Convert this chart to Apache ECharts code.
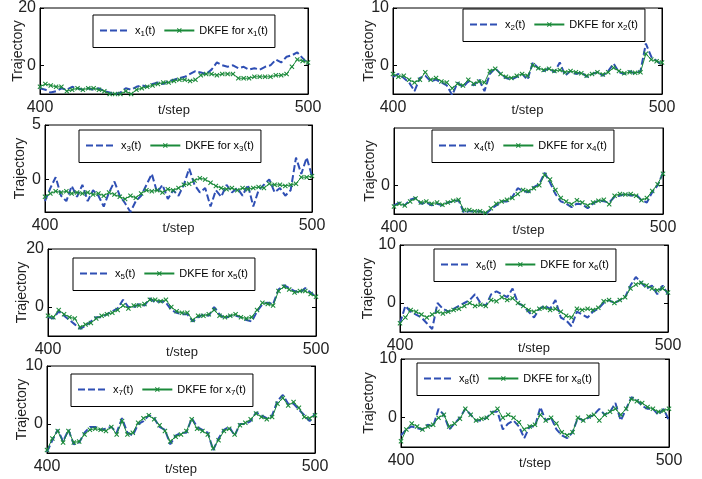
<!DOCTYPE html>
<html>
<head>
<meta charset="utf-8">
<script src="https://cdn.jsdelivr.net/npm/echarts@6/dist/echarts.min.js"></script>
<style>
html, body { margin: 0; padding: 0; background: #fff; }
#chart { width: 702px; height: 479px; }
</style>
</head>
<body>
<div id="chart"></div>
<script>
// 时间步 400..500，每 2 步读一个点
const steps = [];
for (let s = 400; s <= 500; s += 2) steps.push(s);

const xTicks = [400, 500];

// 真实状态 x_i(t) 与 DKFE 估计
const x1 = [-8, -8.5, -9.5, -9, -8, -8.5, -7.5, -8, -8.5, -8, -8.5, -8, -9, -9.5, -10, -9.5, -8, -8.5, -7.5, -7, -7.5, -6.5, -6, -6.5, -5.5, -5, -4.5, -4, -3, -2, -2.5, -3, -1.5, 1, 0, -0.5, 0, -1, -0.5, -1.5, -1, -1.5, -0.5, 0, 2, 1, 3, 3.5, 4.5, 2.5, 0.5];
const dkfe1 = [-7.5, -6.5, -7, -7.5, -7.5, -9, -8.5, -8, -8.5, -8, -8, -8.5, -9, -10, -10, -10, -9, -10, -8.5, -8, -7.5, -7, -6.5, -6, -6, -5.5, -5, -5, -5.5, -5, -3.5, -3, -3, -3.5, -3, -3, -3, -4.5, -4.5, -4.5, -4, -4, -4, -4, -3.5, -3.5, -3, -0.5, 2, 1.5, 1];

const x2 = [-2, -1.5, -2.2, -3, -4.5, -2.2, -1.8, -2.8, -2.5, -3, -3.5, -5.2, -3, -3.8, -2.8, -3.5, -2.5, -4.5, -1.5, -0.5, -1.5, -2.2, -2.5, -2, -1.5, -2.5, 0.5, -0.5, -1, -0.5, -1.2, 0.5, -1.8, -1, -1.5, -1.2, -2, -1.5, -1.2, -1.8, -1, 0.3, -1.2, -1.5, -1, -1.5, -1, 3.8, 1.5, 0.8, 0];
const dkfe2 = [-1.5, -2, -1.8, -2.5, -3, -2.5, -1.2, -2.5, -2.2, -2.8, -3, -4, -3.2, -3.5, -2.5, -3.2, -2.8, -3, -1, -0.6, -1.5, -2, -2.2, -1.8, -1.5, -1.8, 0, -0.5, -0.8, -0.6, -1, -0.8, -1.2, -1, -1.2, -1.4, -1.8, -1.5, -1.2, -1.6, -1.2, -0.4, -1, -1.4, -1.2, -1.3, -1.2, 2, 1, 0.7, 0.5];

const x3 = [-2, -0.8, 0.2, -1.5, -2, -0.6, -1.6, -0.5, -2, -1, -1.5, -2.5, -1.2, -0.2, -1.5, -2.2, -3, -2, -1.5, -0.5, 0.5, -1.2, -0.5, -1.8, -1, -1.5, -0.5, 1, -0.5, -1.2, -0.8, -2.5, -1, -1.6, -0.5, -1.2, -0.8, -1.5, -0.5, -2.5, -1, -0.5, 0, -1.2, -0.8, -1.5, -1, 2, 0.5, 2, 0.3];
const dkfe3 = [-1.6, -1.3, -1.1, -1.2, -1.1, -1.3, -1.2, -1.3, -1.2, -1.4, -1.3, -1.5, -1.2, -1.4, -1.6, -1.8, -1.5, -1.7, -1.3, -1, -1.1, -1, -1.2, -0.9, -1, -0.8, -0.5, -0.4, -0.1, 0.1, 0, -0.3, -0.6, -0.8, -0.9, -0.8, -1, -0.8, -0.9, -0.8, -0.7, -0.8, -0.4, -0.5, -0.5, -0.6, -0.5, -0.4, 0.2, 0.2, 0.3];

const x4 = [-3.5, -3, -3.5, -2.5, -2.2, -3.2, -3, -3.5, -3.2, -3.5, -3, -2.8, -2.6, -4.8, -4.5, -4.6, -4.5, -5, -4.2, -3.5, -2.8, -2.8, -2, -0.5, -1, -1.2, -0.3, 0.2, 2.2, 0.5, -1.5, -2.8, -3.2, -3.8, -3.2, -3.3, -4, -3.2, -2.6, -2.8, -3, -2, -1.8, -1.5, -1.8, -1.6, -2.6, -3, -1.2, 0, 2.2];
const dkfe4 = [-3.7, -3.2, -3.5, -2.8, -2.3, -3, -2.8, -3.2, -3, -3.4, -3, -2.7, -2.5, -4.3, -4.3, -4.5, -4.5, -4.8, -4, -3.2, -2.8, -2.5, -2.2, -1.5, -0.8, -1, -0.5, 0, 1.8, 1, -0.8, -2.2, -2.8, -3.3, -2.6, -3, -3.5, -3, -2.7, -2.5, -3.3, -1.8, -1.5, -1.6, -1.5, -1.8, -2.6, -2.2, -1, 0.2, 2];

const x5 = [-3.5, -4, -1.5, -3, -4.5, -6, -7.5, -6.5, -5, -3.5, -3.5, -2.5, -1.5, -0.5, 2.5, 0, 0, 1, 0.5, 3, 1.5, 2, 1.5, -1, -2, -2.5, -2.5, -5, -3.5, -2.5, -3, 0, -2.5, -4, -3, -3, -3.5, -4.5, -5, -1.5, 1, 1.5, 1, 6, 7.5, 6.5, 5.5, 5, 6.5, 5, 3.5];
const dkfe5 = [-3, -3.5, -1, -2.5, -3.5, -4, -7, -6, -5.5, -4, -3, -2.5, -2, -1, 0.5, -0.5, 0.5, 0.5, 1, 2.5, 2.5, 2, 2.5, 0, -1.5, -2, -2, -4.5, -3, -3, -2.5, -1, -3, -3.5, -3, -2.5, -3.5, -4, -3.5, -1, 1.5, 1, 0.5, 5.5, 7, 6, 5, 5.5, 5.5, 4.5, 3.5];

const x6 = [-3.5, -0.5, -1.5, -2, -2.5, -3.5, -4.5, 0, -1, -1.5, -1, -0.5, 0, 0.5, 1.5, 0, -0.5, 1.5, 2, 1.5, 1, 2.5, 0, -0.5, -1.5, -2.5, -1, -0.5, -1, 0.5, -2.5, -3, -4, -1.5, -2, -2.5, -1.5, -1, 0, 0.5, 0, 0.5, 1, 3, 4.5, 3.5, 2.5, 3, 1.5, 3, 1.5];
const dkfe6 = [-3.5, -2.5, -1.2, -1.5, -2, -2.5, -2, -1.5, -1.8, -1.5, -1.2, -1, -0.5, 0, -0.5, -0.3, -0.5, 0.5, 0.3, 1, 0.5, 0.8, 0, -0.5, -1.2, -1.5, -1, -0.8, -1.2, -1, -1.5, -2.2, -2.5, -1, -1.2, -1, -1.2, -0.8, 0.3, 0.5, 0, 0.5, 1, 2.5, 3.2, 3.5, 3, 2.5, 2.2, 2.5, 1.8];

const x7 = [-4.8, -2.8, -1, -3, -1, -3.5, -3.2, -1.5, -0.5, -0.5, -1, -0.8, -0.5, -1.5, 1, -1.5, -2, 0, 0.5, 1.5, 1, -0.5, -1, -3.5, -2, -1.5, -1.5, 1, -0.5, -1, -1.5, -4.5, -2.5, -1, -0.5, -2, 0, 0, 0.5, 2, 1.5, 1, 1.5, 4, 5, 3.5, 3.5, 2.5, 1.5, 0.5, 1.8];
const dkfe7 = [-4.5, -2.5, -1.2, -3.2, -1.2, -3.2, -3, -1.8, -1, -0.8, -1, -1.2, -0.5, -1.8, 0.5, -1.8, -1.5, 0.2, 1, 1.5, 0.8, -0.2, -1.2, -3, -2.2, -1.8, -1.2, 0.8, -0.8, -1.2, -1.8, -4.2, -2.8, -1.2, -0.8, -1.8, -0.2, 0.2, 0.8, 1.8, 1.2, 0.8, 1.2, 3.5, 4.5, 3.2, 3.8, 2.8, 1.2, 1, 1.5];

const x8 = [-3, -2, -1.5, -1.8, -2, -1.2, -1.5, 1.5, 0.5, -2, -1, 0, 1.5, 0.5, -0.5, -0.5, 0, 1, 1, -2, -1, -0.5, -1.5, -3.5, -1.5, -1.5, 1.8, -0.5, 0, -2, -3, -3.5, -2.5, 0, -0.5, 0, 0.5, 1.5, 0.5, 1, 2.5, -0.5, 1.5, 3.5, 3, 2, 1.5, 1.5, 0.5, 1.5, -0.5];
const dkfe8 = [-4, -2, -1, -1.5, -2, -1.5, -1.2, 0, 0.5, -1.5, -1, -0.2, 1.5, 0.5, -0.5, -0.2, 0, 0.8, 1.5, 0, 0.5, 0, -0.8, -2, -1.5, -1.2, 0.5, -0.5, 0, -1, -2.5, -3, -2.5, 0, -0.5, 0.2, 0.5, -0.5, 0.5, 1, 1.5, 0.5, 1.5, 3.2, 2.8, 2.5, 1.8, 1.5, 1, 1.2, 1.5];

// 纵轴范围与刻度标签
const yRange1 = [-10, 20], yTicks1 = [0, 20];
const yRange2 = [-5, 10], yTicks2 = [0, 10];
const yRange3 = [-3, 5], yTicks3 = [0, 5];
const yRange4 = [-5, 10], yTicks4 = [0];
const yRange5 = [-10, 20], yTicks5 = [0, 20];
const yRange6 = [-5, 10], yTicks6 = [0, 10];
const yRange7 = [-5, 10], yTicks7 = [0, 10];
const yRange8 = [-5, 10], yTicks8 = [0, 10];

const BLUE = "#2f4fb4";
const GREEN = "#1b8a3a";
const FONT = "Liberation Sans, Arial, sans-serif";
// 叉号标记
const CROSS = "path://M0,1.5L1.5,0L5,3.5L8.5,0L10,1.5L6.5,5L10,8.5L8.5,10L5,6.5L1.5,10L0,8.5L3.5,5Z";

// 各子图的位置
const panels = [
  { k: 1, truth: x1, est: dkfe1, range: yRange1, ticks: yTicks1, grid: [40, 8, 268, 86], legend: [93, 15], gap: 15 },
  { k: 2, truth: x2, est: dkfe2, range: yRange2, ticks: yTicks2, grid: [393, 7, 269, 87], legend: [463, 9], gap: 17 },
  { k: 3, truth: x3, est: dkfe3, range: yRange3, ticks: yTicks3, grid: [45, 125, 267, 87], legend: [79, 130], gap: 18 },
  { k: 4, truth: x4, est: dkfe4, range: yRange4, ticks: yTicks4, grid: [394, 128, 269, 86], legend: [432, 130], gap: 17 },
  { k: 5, truth: x5, est: dkfe5, range: yRange5, ticks: yTicks5, grid: [48, 249, 268, 87], legend: [73, 258], gap: 19 },
  { k: 6, truth: x6, est: dkfe6, range: yRange6, ticks: yTicks6, grid: [400, 245, 268, 87], legend: [434, 249], gap: 25 },
  { k: 7, truth: x7, est: dkfe7, range: yRange7, ticks: yTicks7, grid: [47, 366, 268, 87], legend: [71, 374], gap: 18 },
  { k: 8, truth: x8, est: dkfe8, range: yRange8, ticks: yTicks8, grid: [401, 359, 268, 88], legend: [417, 363], gap: 25 },
];

const pairs = (vals) => steps.map((s, i) => [s, vals[i]]);

const option = {
  animation: false,
  backgroundColor: "#fff",
  textStyle: { fontFamily: FONT },
  grid: [],
  xAxis: [],
  yAxis: [],
  legend: [],
  series: [],
};

panels.forEach((p, i) => {
  const [left, top, width, height] = p.grid;
  option.grid.push({ left, top, width, height, show: true, borderColor: "#000", borderWidth: 1 });

  option.xAxis.push({
    gridIndex: i,
    type: "value",
    min: 400,
    max: 500,
    name: "t/step",
    nameLocation: "middle",
    nameGap: 10,
    nameMoveOverlap: false,
    nameTextStyle: { fontSize: 13, color: "#222", fontFamily: FONT },
    axisLine: { onZero: false, lineStyle: { color: "#000" } },
    axisTick: { show: false },
    splitLine: { show: false },
    axisLabel: { customValues: xTicks, fontSize: 16, color: "#222", margin: 6, fontFamily: FONT },
  });

  // 左侧纵轴
  option.yAxis.push({
    gridIndex: i,
    type: "value",
    min: p.range[0],
    max: p.range[1],
    name: "Trajectory",
    nameLocation: "middle",
    nameGap: p.gap,
    nameMoveOverlap: false,
    nameTextStyle: { fontSize: 14, color: "#222", fontFamily: FONT },
    axisLine: { show: true, onZero: false, lineStyle: { color: "#000" } },
    axisTick: { inside: true, length: 4, customValues: p.ticks, lineStyle: { color: "#000" } },
    splitLine: { show: false },
    axisLabel: { customValues: p.ticks, fontSize: 16, color: "#222", margin: 4, fontFamily: FONT },
  });
  // 右侧刻度
  option.yAxis.push({
    gridIndex: i,
    type: "value",
    position: "right",
    min: p.range[0],
    max: p.range[1],
    axisLine: { show: true, onZero: false, lineStyle: { color: "#000" } },
    axisTick: { inside: true, length: 4, customValues: p.ticks, lineStyle: { color: "#000" } },
    axisLabel: { show: false },
    splitLine: { show: false },
  });

  const nameA = `x${p.k}(t)`;
  const nameB = `DKFE for x${p.k}(t)`;

  option.legend.push({
    data: [
      { name: nameA, itemStyle: { opacity: 0 } },
      { name: nameB },
    ],
    left: p.legend[0],
    top: p.legend[1],
    orient: "horizontal",
    backgroundColor: "#fff",
    borderColor: "#000",
    borderWidth: 1,
    borderRadius: 0,
    padding: [10, 7, 10, 6],
    itemGap: 8,
    itemWidth: 30,
    itemHeight: 6,
    formatter: (name) => name.replace(/x(\d)/, "x{s|$1}"),
    textStyle: {
      fontSize: 11,
      color: "#000",
      fontFamily: FONT,
      rich: { s: { fontSize: 8, fontFamily: FONT, color: "#000", verticalAlign: "bottom", padding: [6, 0, 0, 0] } },
    },
  });

  option.series.push({
    name: nameA,
    type: "line",
    xAxisIndex: i,
    yAxisIndex: i * 2,
    data: pairs(p.truth),
    symbol: "none",
    lineStyle: { color: BLUE, width: 2, type: [7, 3] },
    itemStyle: { color: BLUE },
  });
  option.series.push({
    name: nameB,
    type: "line",
    xAxisIndex: i,
    yAxisIndex: i * 2,
    data: pairs(p.est),
    symbol: CROSS,
    symbolSize: 5,
    showSymbol: true,
    showAllSymbol: true,
    lineStyle: { color: GREEN, width: 1 },
    itemStyle: { color: GREEN },
  });
});

const chart = echarts.init(document.getElementById("chart"), null, { renderer: "canvas" });
chart.setOption(option);
</script>
</body>
</html>
